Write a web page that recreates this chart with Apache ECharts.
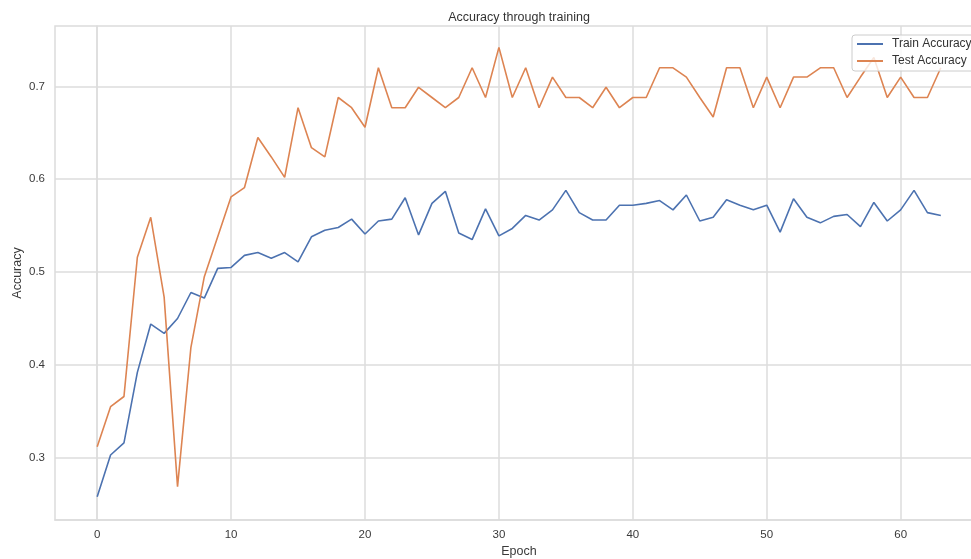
<!DOCTYPE html>
<html>
<head>
<meta charset="utf-8">
<script src="https://cdn.jsdelivr.net/npm/echarts@6/dist/echarts.min.js"></script>
<style>
  html, body { margin: 0; padding: 0; background: #ffffff; }
  #chart { width: 971px; height: 559px; }
</style>
</head>
<body>
<div id="chart"></div>
<script>
// Per-epoch accuracy recorded during training
const epochs = Array.from({ length: 64 }, (_, i) => i);

const trainAccuracy = [
  0.258, 0.303, 0.316, 0.392, 0.444, 0.434, 0.450, 0.478, 0.472, 0.504,
  0.505, 0.518, 0.521, 0.515, 0.521, 0.511, 0.538, 0.545, 0.548, 0.557,
  0.541, 0.555, 0.557, 0.580, 0.540, 0.574, 0.587, 0.542, 0.535, 0.568,
  0.539, 0.547, 0.561, 0.556, 0.567, 0.588, 0.564, 0.556, 0.556, 0.572,
  0.572, 0.574, 0.577, 0.567, 0.583, 0.555, 0.559, 0.578, 0.572, 0.567,
  0.572, 0.543, 0.579, 0.559, 0.553, 0.560, 0.562, 0.549, 0.575, 0.555,
  0.567, 0.588, 0.564, 0.561
];

const testAccuracy = [
  0.312, 0.355, 0.366, 0.516, 0.559, 0.473, 0.269, 0.419, 0.495, 0.538,
  0.581, 0.591, 0.645, 0.624, 0.602, 0.677, 0.634, 0.624, 0.688, 0.677,
  0.656, 0.720, 0.677, 0.677, 0.699, 0.688, 0.677, 0.688, 0.720, 0.688,
  0.742, 0.688, 0.720, 0.677, 0.710, 0.688, 0.688, 0.677, 0.699, 0.677,
  0.688, 0.688, 0.720, 0.720, 0.710, 0.688, 0.667, 0.720, 0.720, 0.677,
  0.710, 0.677, 0.710, 0.710, 0.720, 0.720, 0.688, 0.710, 0.731, 0.688,
  0.710, 0.688, 0.688, 0.720
];

const xTicks = [0, 10, 20, 30, 40, 50, 60];
const yTicks = [0.3, 0.4, 0.5, 0.6, 0.7];

const FONT = '"Liberation Sans", Arial, "DejaVu Sans", sans-serif';
const GRID_COLOR = '#dcdcdc';
const TEXT_COLOR = '#3a3a3a';

const chart = echarts.init(document.getElementById('chart'), null, { renderer: 'canvas' });

const pairs = (ys) => epochs.map((e, i) => [e, ys[i]]);

chart.setOption({
  animation: false,
  backgroundColor: '#ffffff',
  textStyle: { fontFamily: FONT },
  graphic: [{
    type: 'text',
    x: 519,
    y: 11,
    z: 10,
    style: {
      text: 'Accuracy through training',
      fontFamily: FONT,
      fontSize: 12.5,
      fill: '#333333',
      textAlign: 'center'
    }
  }],
  legend: {
    orient: 'vertical',
    left: 852,
    top: 35,
    padding: [3, 6, 4, 5],
    itemWidth: 26,
    itemHeight: 2,
    itemGap: 5,
    icon: 'rect',
    backgroundColor: 'rgba(255,255,255,0.8)',
    borderColor: '#cccccc',
    borderWidth: 1,
    borderRadius: 3,
    textStyle: { fontFamily: FONT, fontSize: 12, color: '#333333', padding: [0, 0, 0, 4] },
    data: ['Train Accuracy', 'Test Accuracy']
  },
  grid: {
    left: 55,
    top: 26,
    width: 928,
    height: 494,
    outerBoundsMode: 'none',
    show: true,
    borderColor: GRID_COLOR,
    borderWidth: 1.5,
    containLabel: false
  },
  xAxis: {
    type: 'value',
    min: -3.15,
    max: 66.15,
    name: 'Epoch',
    nameLocation: 'middle',
    nameGap: 25,
    nameMoveOverlap: false,
    nameTextStyle: { fontFamily: FONT, fontSize: 12.5, color: TEXT_COLOR },
    axisLine: { show: true, lineStyle: { color: GRID_COLOR, width: 1.5 } },
    axisTick: { show: false, customValues: xTicks },
    axisLabel: { customValues: xTicks, fontFamily: FONT, fontSize: 11.5, color: TEXT_COLOR, margin: 9 },
    splitLine: { show: true, lineStyle: { color: GRID_COLOR, width: 1.5 } }
  },
  yAxis: {
    type: 'value',
    min: 0.233,
    max: 0.765,
    name: 'Accuracy',
    nameLocation: 'middle',
    nameRotate: 90,
    nameGap: 31,
    nameMoveOverlap: false,
    nameTextStyle: { fontFamily: FONT, fontSize: 12.5, color: TEXT_COLOR },
    axisLine: { show: true, lineStyle: { color: GRID_COLOR, width: 1.5 } },
    axisTick: { show: false, customValues: yTicks },
    axisLabel: {
      customValues: yTicks,
      fontFamily: FONT, fontSize: 11.5, color: TEXT_COLOR, margin: 10,
      formatter: (v) => v.toFixed(1)
    },
    splitLine: { show: true, lineStyle: { color: GRID_COLOR, width: 1.5 } }
  },
  series: [
    {
      name: 'Train Accuracy',
      type: 'line',
      data: pairs(trainAccuracy),
      showSymbol: false,
      symbol: 'none',
      color: '#4c72b0',
      lineStyle: { color: '#4c72b0', width: 1.6 },
      z: 3
    },
    {
      name: 'Test Accuracy',
      type: 'line',
      data: pairs(testAccuracy),
      showSymbol: false,
      symbol: 'none',
      color: '#dd8452',
      lineStyle: { color: '#dd8452', width: 1.6 },
      z: 3
    }
  ]
});
</script>
</body>
</html>
